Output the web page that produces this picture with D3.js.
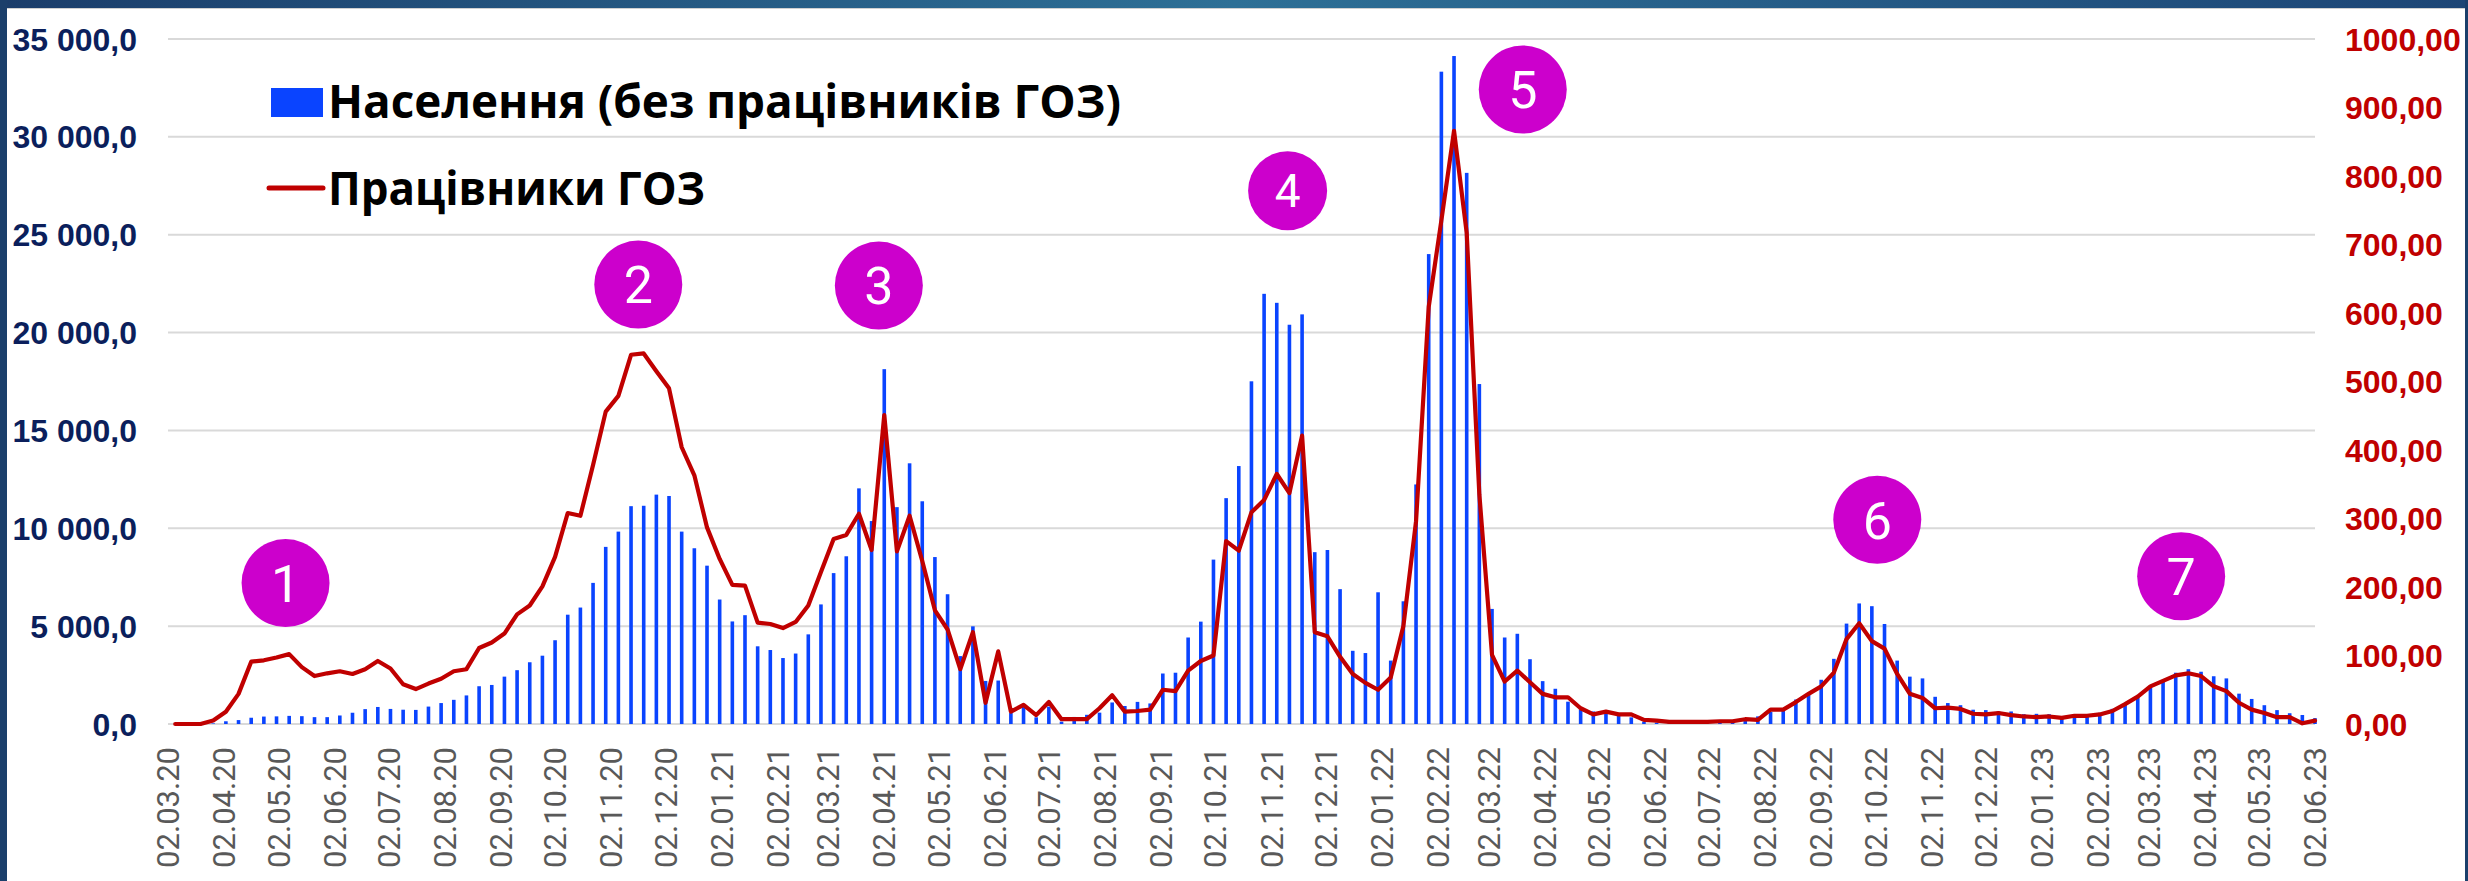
<!DOCTYPE html>
<html><head><meta charset="utf-8">
<script src="https://cdn.jsdelivr.net/npm/d3@7"></script>
<style>body{margin:0;background:#fff}svg{display:block}</style>
</head><body>
<svg id="chart" width="2468" height="881"></svg>
<script>
// ---------- DATA ----------
const firstWeek = "2020-03-06";   // weekly points (Fridays)
const popValues = [
0,0,0,30,140,200,320,380,390,415,
400,350,350,435,575,760,870,770,730,720,
890,1070,1235,1460,1930,1995,2420,2750,3155,3490,
4280,5585,5950,7210,9050,9830,11130,11150,11720,11650,
9830,8980,8090,6360,5240,5560,3970,3780,3370,3600,
4580,6110,7710,8570,12040,10370,18130,11080,13320,11380,
8530,6630,3470,4990,2200,2220,560,905,340,890,
120,360,470,580,1100,920,1130,1050,2580,2620,
4420,5230,8400,11540,13180,17510,21980,21520,20400,20930,
8780,8890,6890,3740,3625,6730,3240,6270,12240,24010,
33330,34130,28160,17370,5880,4420,4610,3310,2190,1800,
1140,750,640,570,460,340,120,70,40,30,
30,40,60,60,160,390,620,750,1250,1480,
2260,3330,5130,6160,6020,5110,3240,2420,2330,1390,
1070,960,730,710,640,640,500,520,500,390,
460,460,570,775,1030,1370,1940,2230,2620,2800,
2670,2440,2330,1550,1280,960,710,550,460,300];
const hcwValues = [
0,0,0,5,18,44,91,93,97,102,
83,70,74,77,73,80,92,81,58,51,
59,66,77,80,111,119,132,160,173,201,
244,308,304,378,456,479,539,541,515,490,
404,363,287,241,203,202,148,146,140,149,
173,222,270,276,307,254,451,252,304,238,
166,138,80,134,31,106,18,28,13,32,
7,7,7,23,42,18,19,21,50,48,
78,92,100,267,253,309,327,365,337,421,
134,128,98,73,60,50,68,143,296,609,
735,866,717,335,101,62,78,61,44,39,
39,23,14,18,14,14,6,5,3,3,
3,3,4,4,7,6,21,21,32,44,
55,75,124,147,121,110,73,44,38,23,
24,22,15,14,16,13,11,10,11,9,
12,12,14,19,29,40,55,63,71,74,
70,55,48,31,21,16,10,10,1,5];
const tickLabels = [
"02.03.20","02.04.20","02.05.20","02.06.20","02.07.20","02.08.20","02.09.20","02.10.20","02.11.20","02.12.20",
"02.01.21","02.02.21","02.03.21","02.04.21","02.05.21","02.06.21","02.07.21","02.08.21","02.09.21","02.10.21","02.11.21","02.12.21",
"02.01.22","02.02.22","02.03.22","02.04.22","02.05.22","02.06.22","02.07.22","02.08.22","02.09.22","02.10.22","02.11.22","02.12.22",
"02.01.23","02.02.23","02.03.23","02.04.23","02.05.23","02.06.23"];
const leftTicks = [0,5000,10000,15000,20000,25000,30000,35000];
const rightTicks = [0,100,200,300,400,500,600,700,800,900,1000];
const seriesNames = ["Населення (без працівників ГОЗ)","Працівники ГОЗ"];
const badgeLabels = ["1","2","3","4","5","6","7"];
const badgeDates  = ["2020-05-06","2020-11-17","2021-03-30","2021-11-11","2022-03-21","2022-10-03","2023-03-20"];
const badgeValues = [7200,22450,22400,27250,32420,10430,7550];

// ---------- LAYOUT ----------
const W = 2468, H = 881;
const M = {left:168, right:2315, top:39, bottom:724};
const svg = d3.select("#chart");
const parseTick = d3.timeParse("%d.%m.%y");
const parseISO = d3.timeParse("%Y-%m-%d");
const tickDates = tickLabels.map(parseTick);
const start = parseISO(firstWeek);
const weekDates = popValues.map((_,i)=>d3.timeDay.offset(start, 7*i));

const x = d3.scaleTime().domain([tickDates[0], tickDates[tickDates.length-1]]).range([M.left, M.right]);
const yL = d3.scaleLinear().domain([0,35000]).range([M.bottom, M.top]);
const yR = d3.scaleLinear().domain([0,1000]).range([M.bottom, M.top]);

const loc = d3.formatLocale({decimal:",", thousands:" ", grouping:[3], currency:["",""]});
const fmtL = loc.format(",.1f");
const fmtR = loc.format(".2f");

// frame
const defs = svg.append("defs");
const g1 = defs.append("linearGradient").attr("id","topg").attr("x1","0").attr("x2","1");
g1.append("stop").attr("offset","0").attr("stop-color","#1b3d6a");
g1.append("stop").attr("offset","0.5").attr("stop-color","#2e7096");
g1.append("stop").attr("offset","1").attr("stop-color","#1d4575");
svg.append("rect").attr("x",0).attr("y",0).attr("width",W).attr("height",8).attr("fill","url(#topg)");
svg.append("rect").attr("x",0).attr("y",0).attr("width",7).attr("height",H).attr("fill","#1b3f6b");
svg.append("rect").attr("x",W-3).attr("y",0).attr("width",3).attr("height",H).attr("fill","#1b3f6b");
svg.append("line").attr("x1",7).attr("x2",W-3).attr("y1",8.5).attr("y2",8.5).attr("stroke","#d0d0d0").attr("stroke-width",1);

// gridlines
svg.append("g").selectAll("line").data(leftTicks).join("line")
  .attr("x1",M.left).attr("x2",M.right)
  .attr("y1",d=>yL(d)).attr("y2",d=>yL(d))
  .attr("stroke","#d9d9d9").attr("stroke-width",2);

// left axis labels
svg.append("g").selectAll("text").data(leftTicks).join("text")
  .attr("x",137).attr("y",d=>yL(d)).attr("dy","0.36em")
  .attr("text-anchor","end")
  .attr("font-family","'Liberation Sans',Arial,sans-serif").attr("font-weight","bold")
  .attr("font-size",32).attr("fill","#0b1f5c")
  .text(d=>fmtL(d));

// right axis labels
svg.append("g").selectAll("text").data(rightTicks).join("text")
  .attr("x",2345).attr("y",d=>yR(d)).attr("dy","0.36em")
  .attr("text-anchor","start")
  .attr("font-family","'Liberation Sans',Arial,sans-serif").attr("font-weight","bold")
  .attr("font-size",32).attr("fill","#c00000")
  .text(d=>fmtR(d));

// x labels
svg.append("g").selectAll("text").data(tickDates).join("text")
  .attr("transform",d=>`translate(${x(d)},747) rotate(-90)`)
  .attr("dy","0.36em").attr("text-anchor","end")
  .attr("font-family","Roboto,sans-serif").attr("font-size",31).attr("fill","#595959")
  .text((d,i)=>tickLabels[i]);

// bars
const barW = 3.6;
svg.append("g").selectAll("rect").data(popValues).join("rect")
  .attr("x",(d,i)=>x(weekDates[i])-barW/2)
  .attr("y",d=>yL(d))
  .attr("width",barW)
  .attr("height",d=>M.bottom-yL(d))
  .attr("fill","#0a44ff");

// line
const line = d3.line().x((d,i)=>x(weekDates[i])).y(d=>yR(d));
svg.append("path").datum(hcwValues).attr("d",line)
  .attr("fill","none").attr("stroke","#c00000").attr("stroke-width",4.2)
  .attr("stroke-linejoin","round").attr("stroke-linecap","round");

// badges
const bg = svg.append("g");
badgeLabels.forEach((lab,i)=>{
  const cx = x(parseISO(badgeDates[i])), cy = yL(badgeValues[i]);
  const r = lab==="4" ? 39.5 : 44;
  bg.append("circle").attr("cx",cx).attr("cy",cy).attr("r",r).attr("fill","#cc00cc");
  bg.append("text").attr("x",cx).attr("y",cy).attr("dy","0.36em").attr("text-anchor","middle")
    .attr("font-family","Roboto,sans-serif").attr("font-size",lab==="4"?46:52).attr("fill","#fff")
    .text(lab);
});

// legend
const lg = svg.append("g");
lg.append("rect").attr("x",271).attr("y",88).attr("width",52).attr("height",29).attr("fill","#0a44ff");
lg.append("text").attr("x",328).attr("y",118)
  .attr("font-family","'Open Sans','Liberation Sans',sans-serif").attr("font-weight","bold")
  .attr("font-size",46).attr("fill","#000")
  .attr("textLength",793).attr("lengthAdjust","spacingAndGlyphs")
  .text(seriesNames[0]);
lg.append("line").attr("x1",269).attr("x2",323).attr("y1",188).attr("y2",188)
  .attr("stroke","#c00000").attr("stroke-width",5).attr("stroke-linecap","round");
lg.append("text").attr("x",328).attr("y",205)
  .attr("font-family","'Open Sans','Liberation Sans',sans-serif").attr("font-weight","bold")
  .attr("font-size",46).attr("fill","#000")
  .attr("textLength",377).attr("lengthAdjust","spacingAndGlyphs")
  .text(seriesNames[1]);
</script>
</body></html>
